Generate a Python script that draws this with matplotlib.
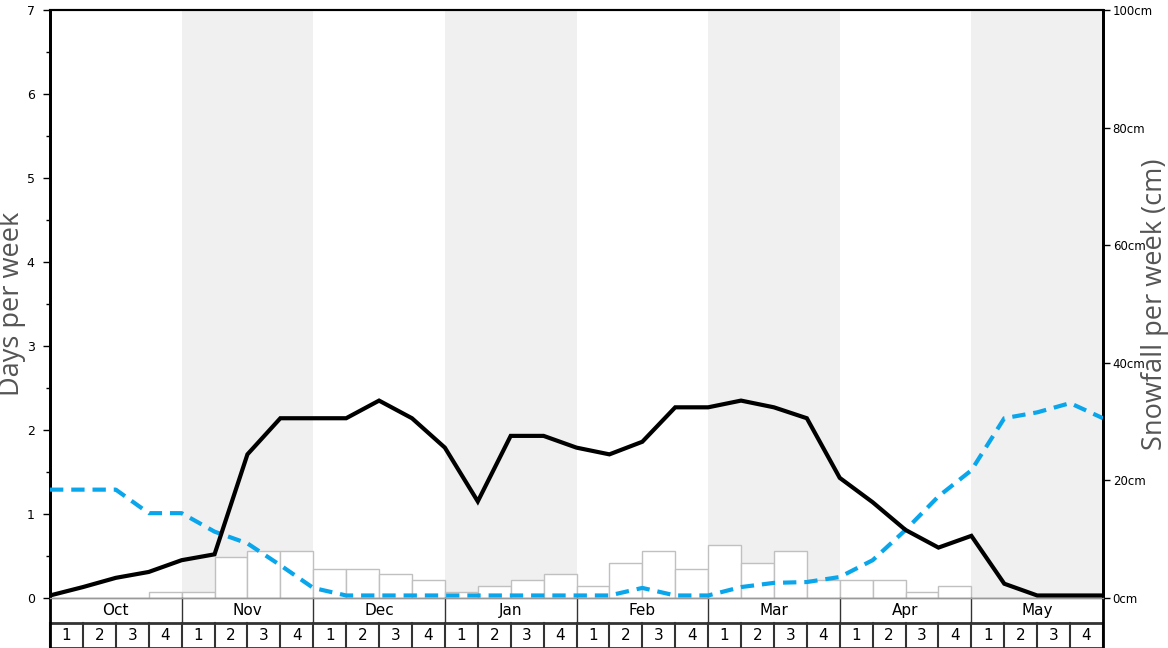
import numpy as np
import matplotlib
matplotlib.use("Agg")
import matplotlib.pyplot as plt

# dane
months = ["Oct", "Nov", "Dec", "Jan", "Feb", "Mar", "Apr", "May"]
week_labels = ["1", "2", "3", "4"]
snow_cm = [0, 0, 0, 1, 1, 7, 8, 8, 5, 5, 4, 3, 1, 2, 3, 4,
           2, 6, 8, 5, 9, 6, 8, 3, 3, 3, 1, 2, 0, 0, 0, 0]
snow_days = [0.03, 0.13, 0.24, 0.31, 0.45, 0.52, 1.71, 2.14, 2.14, 2.14, 2.35,
             2.14, 1.79, 1.15, 1.93, 1.93, 1.79, 1.71, 1.86, 2.27, 2.27, 2.35,
             2.27, 2.14, 1.43, 1.14, 0.81, 0.60, 0.74, 0.17, 0.03, 0.03, 0.03]
rain_days = [1.29, 1.29, 1.29, 1.01, 1.01, 0.79, 0.65, 0.39, 0.12, 0.03, 0.03,
             0.03, 0.03, 0.03, 0.03, 0.03, 0.03, 0.03, 0.12, 0.03, 0.03, 0.13,
             0.18, 0.19, 0.25, 0.45, 0.81, 1.21, 1.52, 2.14, 2.21, 2.32, 2.14]

W, H = 1168, 648
fig = plt.figure(figsize=(W / 100, H / 100), dpi=100)
L, R, T, B = 50, 1103, 10, 598
ax = fig.add_axes([L / W, (H - B) / H, (R - L) / W, (B - T) / H])
axr = ax.twinx()
ax.set_zorder(axr.get_zorder() + 1)
ax.patch.set_visible(False)

nweeks = len(snow_cm)
# tlo - co drugi miesiac szary
for i in range(len(months)):
    if i % 2 == 1:
        axr.axvspan(i * 4, i * 4 + 4, color="#f0f0f0", lw=0, zorder=0)
axr.bar(np.arange(nweeks) + 0.5, snow_cm, width=1.0, color="white",
        edgecolor="#c0c0c0", linewidth=1, zorder=2)
axr.set_ylim(0, 100)
axr.set_xlim(0, nweeks)

x = np.arange(len(snow_days))
ax.plot(x, rain_days, color="#09a6ec", lw=3, dashes=(3.2, 1.9), zorder=3)
ax.plot(x, snow_days, color="black", lw=3, zorder=4, solid_joinstyle="miter")
ax.set_xlim(0, nweeks)
ax.set_ylim(0, 7)

ax.set_xticks([])
ax.set_yticks(range(8))
ax.set_yticks(np.arange(0.5, 7, 1), minor=True)
ax.tick_params(axis="y", which="major", length=5, width=1, labelsize=9, pad=6)
ax.tick_params(axis="y", which="minor", length=3, width=1)
axr.set_yticks(range(0, 101, 20))
axr.set_yticklabels([f"{v}cm" for v in range(0, 101, 20)])
axr.tick_params(axis="y", length=5, width=1, labelsize=8.5, pad=2)

for a in (ax, axr):
    a.spines["left"].set_linewidth(2)
    a.spines["right"].set_linewidth(2)
    a.spines["top"].set_linewidth(1.5)
    a.spines["bottom"].set_color("#999999")
    a.spines["bottom"].set_linewidth(1)

fig.text(12 / W, 1 - 304 / H, "Days per week", rotation=90, ha="center",
         va="center", fontsize=19.5, color="#555555", family="Open Sans")
fig.text(1155 / W, 1 - 304 / H, "Snowfall per week (cm)", rotation=90,
         ha="center", va="center", fontsize=19.5, color="#555555",
         family="Open Sans")

# tabelka pod wykresem
axt = fig.add_axes([L / W, 0, (R - L) / W, (H - B) / H])
axt.set_xlim(0, nweeks)
axt.set_ylim(0, 2)
axt.axis("off")
axt.axhline(1, color="#333333", lw=2)
axt.axhline(0.02, color="#333333", lw=2)
for i in range(nweeks + 1):
    axt.plot([i, i], [0, 1], color="#333333", lw=1.5, clip_on=False)
for i, m in enumerate(months):
    axt.plot([i * 4, i * 4], [1, 2], color="#333333", lw=1, clip_on=False)
    axt.text(i * 4 + 2, 1.5, m, ha="center", va="center", fontsize=11)
    for j, w in enumerate(week_labels):
        axt.text(i * 4 + j + 0.5, 0.5, w, ha="center", va="center", fontsize=11)
axt.plot([0, 0], [0, 2], color="black", lw=2, clip_on=False)
axt.plot([nweeks, nweeks], [0, 2], color="black", lw=2, clip_on=False)

fig.savefig("out.png", dpi=100)
